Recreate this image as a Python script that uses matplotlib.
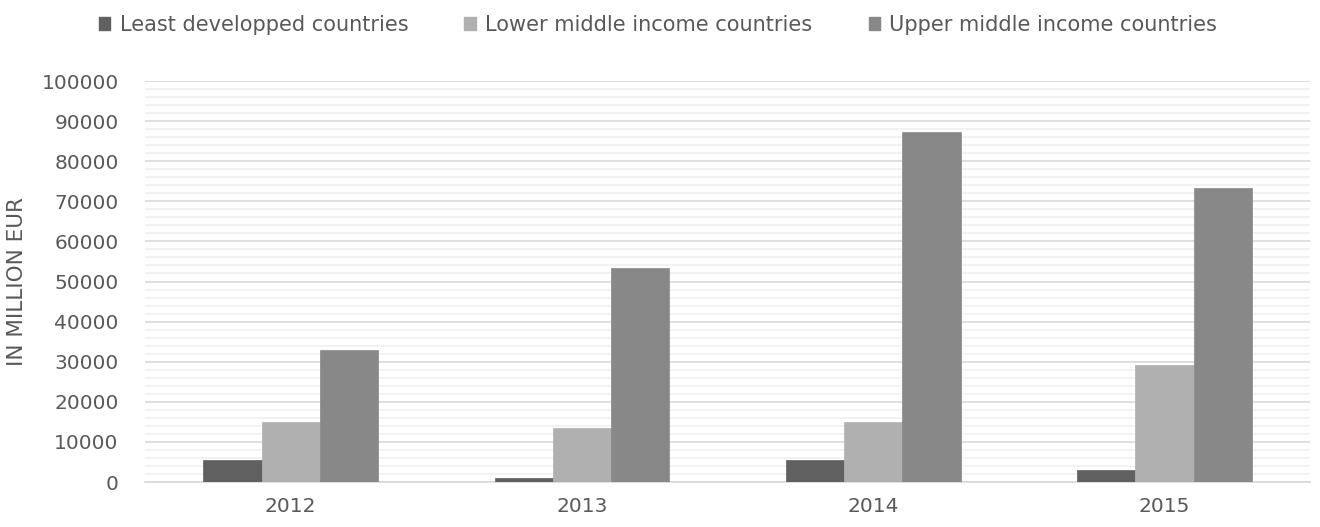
import matplotlib
matplotlib.use("Agg")
import matplotlib.pyplot as plt
import numpy as np
from matplotlib.ticker import MultipleLocator
from matplotlib.patches import Patch

years = ["2012", "2013", "2014", "2015"]
series_names = ["Least developped countries", "Lower middle income countries", "Upper middle income countries"]
least_developed = [5400, 900, 5400, 3100]
lower_middle = [15000, 13400, 15000, 29100]
upper_middle = [33000, 53300, 87300, 73300]
colors = ["#606060", "#b0b0b0", "#888888"]

fig = plt.figure(figsize=(13.2, 5.27), dpi=100)
ax = fig.add_axes([145/1320, 45/527, (1310-145)/1320, (482-81)/527])

x = np.arange(len(years))
w = 0.2
for i, (vals, c) in enumerate(zip([least_developed, lower_middle, upper_middle], colors)):
    ax.bar(x + (i - 1) * w, vals, width=w, color=c, zorder=3, edgecolor=c, linewidth=0.5)

ax.set_xlim(-0.5, len(years) - 0.5)
ax.set_ylim(0, 100000)
ax.yaxis.set_major_locator(MultipleLocator(10000))
ax.yaxis.set_minor_locator(MultipleLocator(2000))
ax.grid(axis="y", which="major", color="#d9d9d9", linewidth=1.2, zorder=0)
ax.grid(axis="y", which="minor", color="#f0f0f0", linewidth=1.2, zorder=0)
for s in ["top", "right", "left"]:
    ax.spines[s].set_visible(False)
ax.spines["bottom"].set_color("#d9d9d9")
ax.spines["bottom"].set_linewidth(1.2)
ax.set_xticks(x)
ax.set_xticklabels(years)
ax.tick_params(axis="both", which="both", length=0, colors="#595959", labelsize=14.5)
ax.tick_params(axis="y", pad=19)
ax.tick_params(axis="x", pad=11)
ax.set_ylabel("IN MILLION EUR", color="#595959", fontsize=15.5)
ax.yaxis.set_label_coords(-(145 - 27) / 1165, 0.5)

handles = [Patch(facecolor=c, edgecolor=c) for c in colors]
fig.legend(handles, series_names, loc="center", bbox_to_anchor=(658/1320, 1 - 25/527), ncol=3,
           frameon=False, fontsize=15, labelcolor="#595959", handlelength=0.55, handleheight=0.55,
           handletextpad=0.45, columnspacing=2.7)

fig.savefig("out.png", dpi=100)
